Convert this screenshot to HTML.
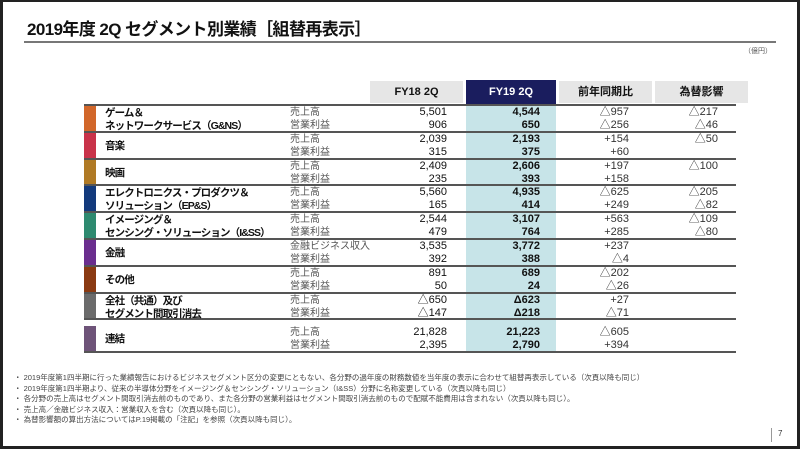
<!DOCTYPE html>
<html><head><meta charset="utf-8"><style>
*{margin:0;padding:0;box-sizing:border-box}
body{width:800px;height:455px;background:#fff;position:relative;overflow:hidden;font-family:"Liberation Sans","Noto Sans CJK JP",sans-serif;color:#111}
.a{position:absolute;white-space:nowrap}
.frame{position:absolute;left:0;top:0;width:800px;height:449px;border:3px solid #222;border-top-width:2px}
.h{position:absolute;top:81px;height:22px;font-size:11px;font-weight:bold;text-align:center;line-height:22px;background:#e6e6e6}
.r{position:absolute;left:84px;width:652px;border-bottom:2px solid #555}
.bar{position:absolute;left:0;top:0;width:12px;height:100%}
.lab{position:absolute;left:21px;font-size:10.5px;font-weight:bold;line-height:13px;letter-spacing:-0.9px;white-space:nowrap}
.it{position:absolute;left:206px;font-size:10px;color:#555;line-height:13px;white-space:nowrap}
.v{position:absolute;font-size:11px;text-align:right;width:80px;line-height:13px}
.c1{left:283px}.c2{left:376px;font-weight:bold}.c3{left:465px;color:#333}.c4{left:554px;color:#333}
.n{font-size:7.5px;color:#444;position:absolute;left:14px;line-height:10.5px;white-space:nowrap}
</style></head><body>
<div class="frame"></div>
<div class="a" style="left:27px;top:15px;font-size:17px;font-weight:bold;letter-spacing:-0.6px">2019年度 2Q セグメント別業績［組替再表示］</div>
<div class="a" style="left:24px;top:41px;width:752px;height:2px;background:#777"></div>
<div class="a" style="left:744px;top:46px;font-size:7px;color:#555">（億円）</div>
<div class="a" style="left:466px;top:84px;width:90px;height:22px;background:#c7e4e8"></div>
<div class="a" style="left:466px;top:106px;width:90px;height:247px;background:#c7e4e8"></div>
<div class="h" style="left:370px;width:93px">FY18 2Q</div>
<div class="h" style="left:466px;width:90px;background:#1a1d5e;color:#fff;top:80px;height:24px;line-height:24px">FY19 2Q</div>
<div class="h" style="left:559px;width:93px">前年同期比</div>
<div class="h" style="left:655px;width:93px">為替影響</div>
<div class="a" style="left:84px;top:104px;width:652px;height:2px;background:#555"></div>

<div id="rows"></div>
<script>
const R=[
["#d2672a","ゲーム＆<br>ネットワークサービス（G&NS）",2,"売上高","5,501","4,544","△957","△217","営業利益","906","650","△256","△46"],
["#c9334a","音楽",1,"売上高","2,039","2,193","+154","△50","営業利益","315","375","+60",""],
["#b07a25","映画",1,"売上高","2,409","2,606","+197","△100","営業利益","235","393","+158",""],
["#133a7c","エレクトロニクス・プロダクツ＆<br>ソリューション（EP&S）",2,"売上高","5,560","4,935","△625","△205","営業利益","165","414","+249","△82"],
["#2e8a70","イメージング＆<br>センシング・ソリューション（I&SS）",2,"売上高","2,544","3,107","+563","△109","営業利益","479","764","+285","△80"],
["#6a2e8e","金融",1,"金融ビジネス収入","3,535","3,772","+237","","営業利益","392","388","△4",""],
["#8a3a12","その他",1,"売上高","891","689","△202","","営業利益","50","24","△26",""],
["#6b6b6b","全社（共通）及び<br>セグメント間取引消去",2,"売上高","△650","Δ623","+27","","営業利益","△147","Δ218","△71",""],
["#6e5479","連結",1,"売上高","21,828","21,223","△605","","営業利益","2,395","2,790","+394",""]];
let h="";
R.forEach((r,i)=>{
 const top=i<8?106+i*26.8:326, ht=i<8?26.8:27;
 h+=`<div class="r" style="top:${top}px;height:${ht}px"><div class="bar" style="background:${r[0]}"></div>`;
 h+=`<div class="lab" style="top:${r[2]==2?1:7}px">${r[1]}</div>`;
 [[3,0],[8,13]].forEach(([k,t])=>{
  h+=`<div class="it" style="top:${t}px">${r[k]}</div>`;
  ["c1","c2","c3","c4"].forEach((c,j)=>{h+=`<div class="v ${c}" style="top:${t}px">${r[k+1+j]}</div>`});
 });
 h+=`</div>`;
});
document.getElementById("rows").innerHTML=h;
</script>

<div class="n" style="top:373px">・ 2019年度第1四半期に行った業績報告におけるビジネスセグメント区分の変更にともない、各分野の過年度の財務数値を当年度の表示に合わせて組替再表示している（次頁以降も同じ）</div>
<div class="n" style="top:383.5px">・ 2019年度第1四半期より、従来の半導体分野をイメージング＆センシング・ソリューション（I&SS）分野に名称変更している（次頁以降も同じ）</div>
<div class="n" style="top:394px">・ 各分野の売上高はセグメント間取引消去前のものであり、また各分野の営業利益はセグメント間取引消去前のもので配賦不能費用は含まれない（次頁以降も同じ）。</div>
<div class="n" style="top:404.5px">・ 売上高／金融ビジネス収入：営業収入を含む（次頁以降も同じ）。</div>
<div class="n" style="top:415px">・ 為替影響額の算出方法についてはP.19掲載の「注記」を参照（次頁以降も同じ）。</div>
<div class="a" style="left:771px;top:428px;width:1px;height:14px;background:#999"></div>
<div class="a" style="left:778px;top:429px;font-size:8px;color:#333">7</div>
</body></html>
